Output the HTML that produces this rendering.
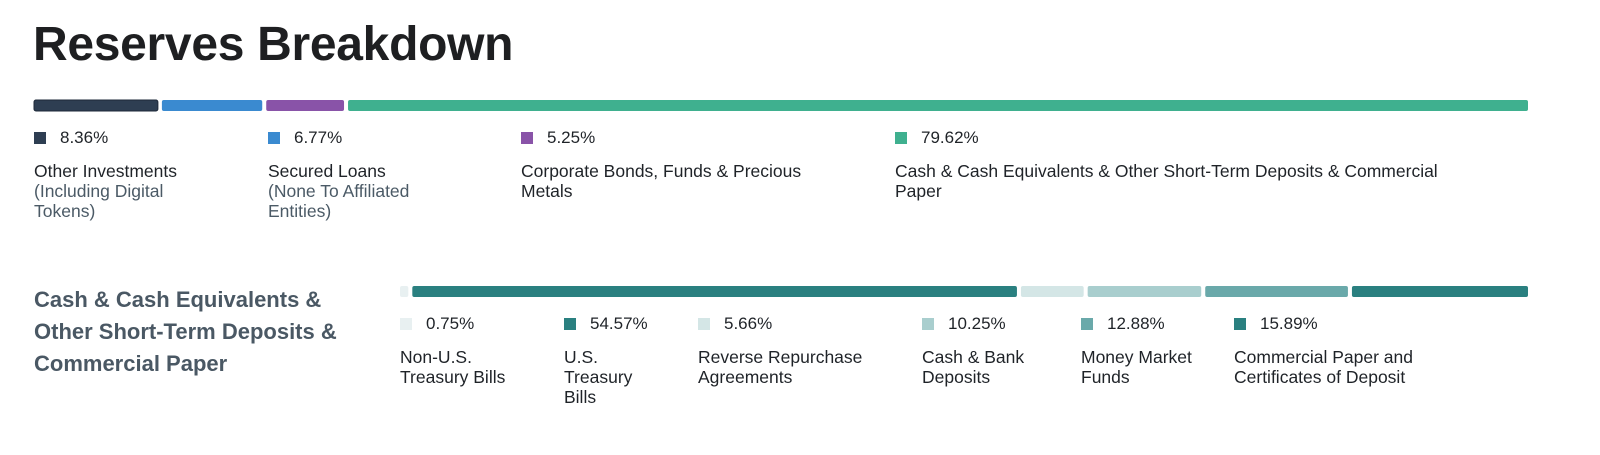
<!DOCTYPE html>
<html><head><meta charset="utf-8"><style>
body{margin:0;width:1600px;height:455px;background:#fff;font-family:"Liberation Sans",sans-serif;color:#1f2328;position:relative;overflow:hidden}
.a{position:absolute}
h1{position:absolute;left:33px;top:17px;margin:0;font-size:48px;font-weight:bold;color:#1e1f21;letter-spacing:-0.3px}
.val{font-size:17px;color:#1f2328;display:flex;align-items:center}
.sw{width:12px;height:12px;display:inline-block;margin-right:14px}
.lab{font-size:17.5px;line-height:20px;color:#1f2328}
.sub{color:#4b5a66}
.side{font-size:22px;font-weight:bold;color:#4a5864;line-height:32px}
</style></head><body>
<h1>Reserves Breakdown</h1>
<svg id="bars" class="a" style="left:0;top:0" width="1600" height="455"></svg>
<div id="leg"></div>
<div class="a side" style="left:34px;top:284px;width:340px">Cash &amp; Cash Equivalents &amp;<br>Other Short-Term Deposits &amp;<br>Commercial Paper</div>
<script>
const topValues=[8.36,6.77,5.25,79.62];
const topLabels=["Other Investments","Secured Loans","Corporate Bonds, Funds & Precious Metals","Cash & Cash Equivalents & Other Short-Term Deposits & Commercial Paper"];
const topSubs=["(Including Digital Tokens)","(None To Affiliated Entities)","",""];
const topColors=["#2e3e52","#3a8ad0","#8953a8","#3fb08f"];
const botValues=[0.75,54.57,5.66,10.25,12.88,15.89];
const botLabels=["Non-U.S. Treasury Bills","U.S. Treasury Bills","Reverse Repurchase Agreements","Cash & Bank Deposits","Money Market Funds","Commercial Paper and Certificates of Deposit"];
const botColors=["#e8f0f1","#2a8080","#d4e6e6","#a9cece","#6aa9aa","#2a8080"];
const svg=document.getElementById('bars'),leg=document.getElementById('leg');
function bar(vals,cols,x0,x1,y,h,name){
  const gap=4,total=vals.reduce((a,b)=>a+b,0),avail=x1-x0-gap*(vals.length-1);
  let x=x0;
  vals.forEach((v,i)=>{const w=v/total*avail;
    const r=document.createElementNS('http://www.w3.org/2000/svg','rect');
    r.setAttribute('x',x);r.setAttribute('y',y);r.setAttribute('width',Math.max(w,1));r.setAttribute('height',h);r.setAttribute('rx',2);r.setAttribute('fill',cols[i]);
    if(i==0&&name=='top'){r.setAttribute('stroke','#1d2838');r.setAttribute('stroke-width','1');}
    
    
    svg.appendChild(r);x+=w+gap;});
}
bar(topValues,topColors,34,1528,100,11,'top');
bar(botValues,botColors,400,1528,286,11,'bottom');
function legend(vals,labs,subs,cols,xs,vy,ly,widths,name){
  vals.forEach((v,i)=>{
    const d=document.createElement('div');d.className='a val';d.style.left=xs[i]+'px';d.style.top=vy+'px';
    
    
    d.innerHTML='<span class="sw" style="background:'+cols[i]+'"></span>'+v.toFixed(2)+'%';leg.appendChild(d);
    const l=document.createElement('div');l.className='a lab';l.style.left=xs[i]+'px';l.style.top=ly+'px';l.style.width=widths[i]+'px';
    
    
    l.innerHTML=labs[i].replace(/&/g,'&amp;')+(subs&&subs[i]?'<br><span class="sub">'+subs[i]+'</span>':'');leg.appendChild(l);
  });
}
legend(topValues,topLabels,topSubs,topColors,[34,268,521,895],128,161,[165,165,310,580],'top');
legend(botValues,botLabels,null,botColors,[400,564,698,922,1081,1234],314,347,[130,80,190,120,140,210],'bottom');
</script>
</body></html>
